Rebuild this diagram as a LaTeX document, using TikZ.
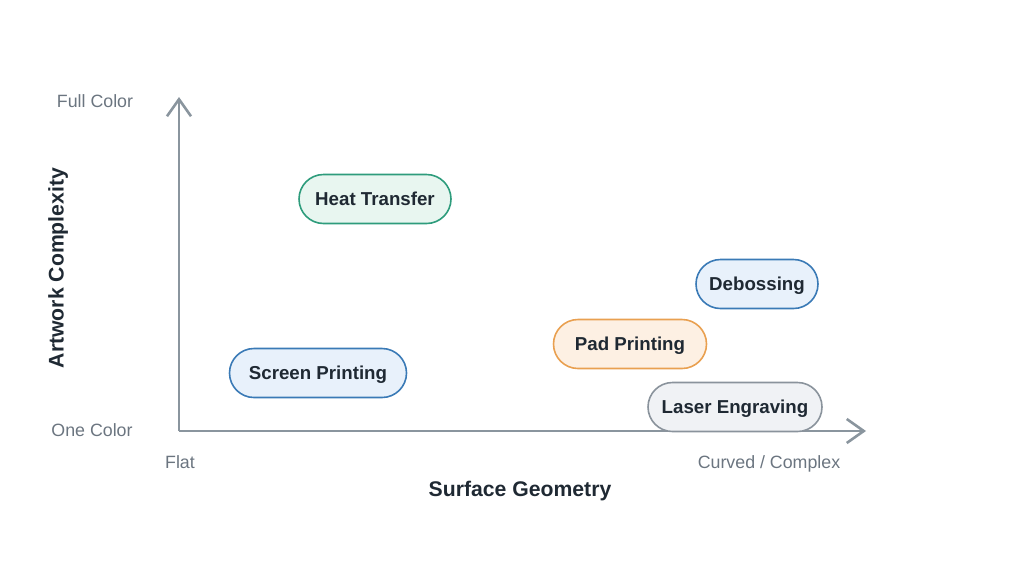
\documentclass[tikz,border=0pt]{standalone}
\usepackage{fontspec}
\setmainfont{Liberation Sans}
\usetikzlibrary{arrows.meta}
\definecolor{axisc}{HTML}{8A959E}
\definecolor{txt}{HTML}{1F2933}
\definecolor{lbl}{HTML}{6B7580}
\definecolor{greenf}{HTML}{E8F6F0}\definecolor{greend}{HTML}{2E9C7C}
\definecolor{bluef}{HTML}{E8F1FB}\definecolor{blued}{HTML}{3A7AB6}
\definecolor{orangef}{HTML}{FDF0E3}\definecolor{oranged}{HTML}{E9A050}
\definecolor{grayf}{HTML}{F0F2F5}\definecolor{grayd}{HTML}{8A939C}
\tikzset{
  pill/.style={rounded corners=24.5pt, line width=1.6pt, minimum height=49pt, inner sep=0pt, text height=13.4pt, text depth=0pt, font=\fontsize{18.7}{22}\selectfont\bfseries, text=txt},
  axis/.style={draw=axisc, line width=2.6pt, -{Straight Barb[length=17pt,width=24pt,line width=2.6pt]}},
  ticklbl/.style={text=lbl, font=\fontsize{17.8}{20}\selectfont, text height=12.7pt, text depth=0pt},
  axlbl/.style={text=txt, font=\fontsize{21.2}{24}\selectfont\bfseries, text height=15.2pt, text depth=0pt},
}
\begin{document}
\begin{tikzpicture}[x=1pt,y=-1pt]
\useasboundingbox (0,0) rectangle (1024,576);
\coordinate (o) at (179,431);
\coordinate (ytop) at (179,97);
\coordinate (xend) at (866,431);
\draw[axis] (o) -- (ytop);
\draw[axis] (o) -- (xend);
\node[ticklbl] (fc) at (95,101) {Full Color};
\node[ticklbl] (oc) at (92,430) {One Color};
\node[ticklbl] (fl) at (180,462) {Flat};
\node[ticklbl] (cc) at (769,462) {Curved / Complex};
\node[axlbl] (sg) at (520,489) {Surface Geometry};
\node[axlbl, rotate=90, text depth=4pt] (ac) at (58,268) {Artwork Complexity};
\node[pill, fill=greenf, draw=greend, minimum width=152pt] (ht) at (375,199) {Heat Transfer};
\node[pill, fill=bluef, draw=blued, minimum width=122pt] (db) at (757,284) {Debossing};
\node[pill, fill=orangef, draw=oranged, minimum width=153pt] (pp) at (630,344) {Pad Printing};
\node[pill, fill=bluef, draw=blued, minimum width=177pt] (sp) at (318,373) {Screen Printing};
\node[pill, fill=grayf, draw=grayd, minimum width=174pt] (le) at (735,407) {Laser Engraving};
\end{tikzpicture}
\end{document}
